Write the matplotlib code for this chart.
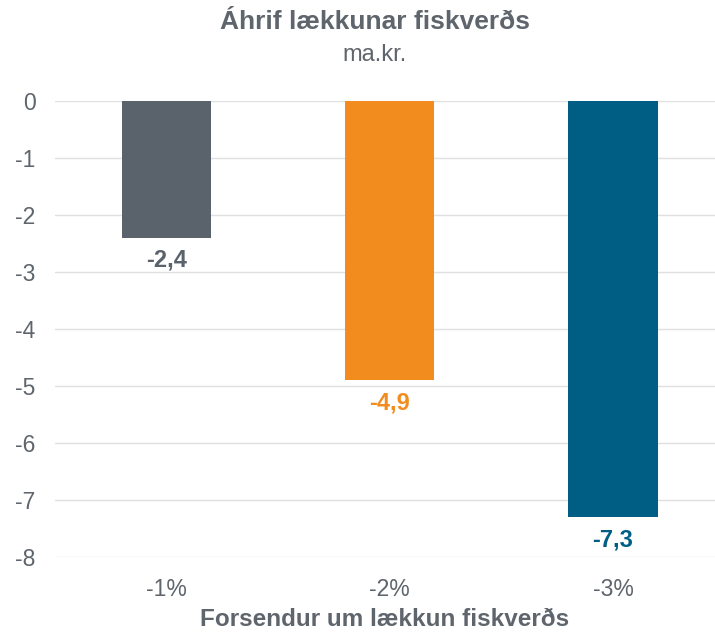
import matplotlib.pyplot as plt

plt.rcParams['font.family'] = ['Liberation Sans', 'DejaVu Sans']

categories = ['-1%', '-2%', '-3%']
values = [-2.4, -4.9, -7.3]
value_labels = ['-2,4', '-4,9', '-7,3']
colors = ['#5a626b', '#f28c1e', '#005e85']
text_color = '#5f656c'

fig = plt.figure(figsize=(7.15, 6.34), dpi=100)
ax = fig.add_axes([55 / 715, 77 / 634, 660 / 715, 456 / 634])

x = range(len(categories))
ax.bar(x, values, width=0.40, color=colors, zorder=2)

# value labels under each bar, in bar colour
for i, v in enumerate(values):
    ax.annotate(value_labels[i], (i, v), xytext=(0, -8), textcoords='offset points',
                ha='center', va='top', fontsize=17, fontweight='bold', color=colors[i])

ax.set_xlim(-0.5, 2.457)
ax.set_ylim(-8, 0)
ax.set_yticks(range(-8, 1))
ax.set_yticklabels([str(t) for t in range(-8, 1)])
ax.set_xticks(list(x))
ax.set_xticklabels(categories)
ax.tick_params(axis='both', length=0, labelsize=16.5, colors=text_color)
ax.tick_params(axis='y', pad=14)
ax.tick_params(axis='x', pad=15)
ax.grid(axis='y', color='#e0e0e0', linewidth=1, zorder=0)
for s in ax.spines.values():
    s.set_visible(False)

ax.set_xlabel('Forsendur um lækkun fiskverðs', fontsize=17.5, fontweight='bold',
              color=text_color, labelpad=5)

fig.text(0.524, 0.965, 'Áhrif lækkunar fiskverðs', ha='center', va='center',
         fontsize=19, fontweight='bold', color=text_color)
fig.text(0.524, 0.913, 'ma.kr.', ha='center', va='center', fontsize=17, color=text_color)

fig.savefig('out.png', dpi=100)
